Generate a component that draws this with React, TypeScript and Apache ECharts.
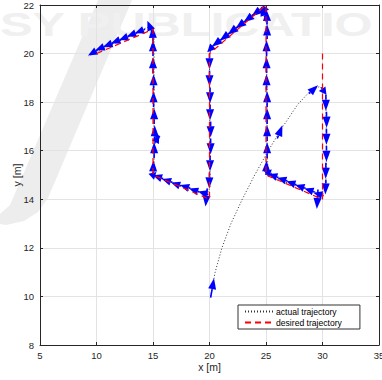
import React, { useEffect, useRef } from "react";
import * as echarts from "echarts";

// Desired trajectory (red dashed)
const desiredX = [30, 30, 25, 25, 20, 20, 15, 15, 10];
const desiredY = [20, 14, 15, 22, 20, 14, 15, 21, 20];

// Actual trajectory (black dotted)
const actualX = [20.1, 20.5, 21.1, 21.9, 22.9, 24.0, 25.2, 26.5, 27.8, 29.0, 29.8, 30.3, 30.35, 30.3, 30.0, 27.0, 25.2, 25.1, 25.05, 24.8, 24.5, 20.3, 20.0, 20.05, 19.8, 15.2, 15.1, 15.1, 14.6, 9.3];
const actualY = [10, 11, 12, 13, 14, 15, 16, 17, 17.9, 18.5, 18.65, 18.3, 16, 14.5, 14.2, 14.65, 15.0, 16, 21.3, 21.9, 21.85, 20.35, 20, 14.5, 14.2, 14.95, 15.2, 20.8, 21.1, 19.9];

// Heading arrows (base point and vector, data units)
const arrowX = [20.1, 26.0, 28.8, 29.9,
  30.3, 30.35, 30.35, 30.35, 30.3, 30.3, 29.6,
  30.1, 29.3, 28.5, 27.7, 26.9, 26.1, 25.5,
  25.0, 25.1, 25.1, 25.1, 25.1, 25.05, 25.05, 25.05, 25.1, 25.1, 24.9, 25.0,
  24.6, 23.9, 23.2, 22.5, 21.8, 21.1, 20.4,
  20.0, 20.0, 20.05, 20.05, 20.1, 20.1, 20.05, 20.0, 19.8,
  19.9, 19.1, 18.3, 17.5, 16.7, 15.9, 15.3,
  15.0, 15.1, 15.15, 15.2, 15.15, 15.1, 15.05, 15.05, 15.0, 15.0, 15.0, 14.9,
  14.3, 13.6, 12.9, 12.2, 11.5, 10.8, 10.1];
const arrowY = [9.95, 16.5, 18.35, 18.6,
  18.3, 17.6, 16.9, 16.2, 15.5, 14.8, 14.4,
  14.15, 14.3, 14.45, 14.6, 14.75, 14.9, 15.05,
  15.0, 15.7, 16.4, 17.1, 17.8, 18.5, 19.2, 19.9, 20.6, 21.2, 21.5, 21.7,
  21.85, 21.6, 21.35, 21.1, 20.85, 20.6, 20.35,
  20.0, 19.3, 18.6, 17.9, 17.2, 16.5, 15.8, 15.1, 14.45,
  14.2, 14.3, 14.45, 14.55, 14.7, 14.85, 14.95,
  15.0, 15.7, 16.3, 16.5, 16.4, 17.1, 17.8, 18.5, 19.2, 19.9, 20.5, 20.9,
  21.0, 20.86, 20.72, 20.58, 20.44, 20.3, 20.14];
const arrowU = [0.3, 0.45, 0.8, 0.45,
  0, 0.02, 0, 0, -0.02, -0.05, -0.1,
  -0.9, -0.9, -0.9, -0.9, -0.9, -0.9, -0.7,
  0.05, 0, 0, 0, 0, 0, 0, 0, 0, -0.05, -0.35, -0.3,
  -0.9, -0.9, -0.9, -0.9, -0.9, -0.9, -0.6,
  0, 0, 0, 0, 0, 0, 0, -0.03, -0.15,
  -0.9, -0.9, -0.9, -0.9, -0.9, -0.9, -0.7,
  0.05, 0, 0.4, 0.45, 0, 0, 0, 0, 0, 0, -0.05, -0.4,
  -0.9, -0.9, -0.9, -0.9, -0.9, -0.9, -0.85];
const arrowV = [0.8, 0.55, 0.35, -0.3,
  -0.65, -0.65, -0.65, -0.65, -0.65, -0.6, -0.8,
  0.12, 0.14, 0.14, 0.14, 0.14, 0.14, 0.12,
  0.6, 0.65, 0.65, 0.65, 0.65, 0.65, 0.65, 0.65, 0.6, 0.6, 0.45, 0.3,
  -0.32, -0.32, -0.32, -0.32, -0.32, -0.32, -0.3,
  -0.65, -0.65, -0.65, -0.65, -0.65, -0.65, -0.65, -0.65, -0.75,
  0.12, 0.14, 0.14, 0.14, 0.14, 0.14, 0.1,
  0.6, 0.65, 0.35, 0.1, 0.65, 0.65, 0.65, 0.65, 0.65, 0.65, 0.6, 0.45,
  -0.16, -0.16, -0.16, -0.16, -0.16, -0.16, -0.22];

const FONT = "'Liberation Sans', Arial, Helvetica, sans-serif";
const AXIS_COLOR = "#262626";

export default function App() {
  const ref = useRef<HTMLDivElement>(null);
  useEffect(() => {
    if (!ref.current) return;
    const chart = echarts.init(ref.current, null, { renderer: "svg" });
    const arrowData = arrowX.map((x, i) => [x, arrowY[i], arrowU[i], arrowV[i]]);
    const commonX = { type: "value", min: 5, max: 35, interval: 5 };
    const commonY = { type: "value", min: 8, max: 22, interval: 2 };
    const axisLine = { show: true, lineStyle: { color: AXIS_COLOR, width: 1 } };
    const axisTick = { show: true, inside: true, length: 3, lineStyle: { color: AXIS_COLOR } };
    chart.setOption({
      animation: false,
      backgroundColor: "#ffffff",
      textStyle: { fontFamily: FONT },
      grid: { left: 40, right: 3, top: 5, bottom: 35, containLabel: false, outerBoundsMode: "none" },
      graphic: [
        {
          type: "polygon",
          z: -10,
          silent: true,
          shape: {
            points: [[98, 0], [132, 0], [48, 198], [38, 212], [24, 221], [6, 225], [0, 224], [0, 214], [10, 205]],
          },
          style: { fill: "#ededed" },
        },
        {
          type: "text",
          z: -10,
          silent: true,
          x: 0,
          y: 8,
          scaleX: 1.48,
          style: {
            text: "SY PUBLICATIO",
            fill: "#f0f0f0",
            font: `bold 33px ${FONT}`,
          },
        },
      ],
      legend: {
        orient: "vertical",
        left: 238,
        top: 305,
        itemWidth: 28,
        itemHeight: 9,
        itemGap: 2,
        padding: [2, 18, 2, 6],
        borderColor: "#333333",
        borderWidth: 1,
        borderRadius: 0,
        backgroundColor: "#ffffff",
        itemStyle: { color: "rgba(0,0,0,0)", borderColor: "rgba(0,0,0,0)", borderWidth: 0, opacity: 0 },
        textStyle: { fontSize: 8.6, color: "#000000", fontFamily: FONT, padding: [0, 0, 0, -2] },
        data: ["actual trajectory", "desired trajectory"],
      },
      xAxis: [
        {
          ...commonX,
          position: "bottom",
          name: "x [m]",
          nameLocation: "middle",
          nameGap: 16,
          nameMoveOverlap: false,
          nameTextStyle: { fontSize: 10.5, color: AXIS_COLOR, fontFamily: FONT },
          axisLine,
          axisTick,
          axisLabel: { fontSize: 9.5, color: AXIS_COLOR, margin: 5, fontFamily: FONT },
          splitLine: { show: true, lineStyle: { color: "#e3e3e3", width: 1 } },
        },
        {
          ...commonX,
          position: "top",
          axisLine,
          axisTick,
          axisLabel: { show: false },
          splitLine: { show: false },
        },
      ],
      yAxis: [
        {
          ...commonY,
          position: "left",
          name: "y [m]",
          nameLocation: "middle",
          nameGap: 18,
          nameMoveOverlap: false,
          nameRotate: 90,
          nameTextStyle: { fontSize: 10.5, color: AXIS_COLOR, fontFamily: FONT },
          axisLine,
          axisTick,
          axisLabel: { fontSize: 9.5, color: AXIS_COLOR, margin: 6, fontFamily: FONT },
          splitLine: { show: true, lineStyle: { color: "#e3e3e3", width: 1 } },
        },
        {
          ...commonY,
          position: "right",
          axisLine,
          axisTick,
          axisLabel: { show: false },
          splitLine: { show: false },
        },
      ],
      series: [
        {
          name: "actual trajectory",
          type: "line",
          data: actualX.map((x, i) => [x, actualY[i]]),
          showSymbol: false,
          symbol: "none",
          lineStyle: { color: "#333333", width: 1, type: [1, 2] },
          itemStyle: { color: "#333333" },
          z: 3,
        },
        {
          name: "arrows",
          type: "custom",
          data: arrowData,
          encode: { x: 0, y: 1 },
          z: 4,
          renderItem: (params: any, api: any) => {
            const x = api.value(0);
            const y = api.value(1);
            const u = api.value(2);
            const v = api.value(3);
            const p0 = api.coord([x, y]);
            const p1 = api.coord([x + u, y + v]);
            const dx = p1[0] - p0[0];
            const dy = p1[1] - p0[1];
            const L = Math.hypot(dx, dy) || 1;
            const ux = dx / L;
            const uy = dy / L;
            const hl = Math.min(L * 0.85, 11);
            const hw = 4;
            const bx = p1[0] - ux * hl;
            const by = p1[1] - uy * hl;
            return {
              type: "group",
              children: [
                {
                  type: "line",
                  shape: { x1: p0[0], y1: p0[1], x2: bx, y2: by },
                  style: { stroke: "#0000ff", lineWidth: 1.6 },
                },
                {
                  type: "polygon",
                  shape: {
                    points: [
                      [p1[0], p1[1]],
                      [bx - uy * hw, by + ux * hw],
                      [bx + uy * hw, by - ux * hw],
                    ],
                  },
                  style: { fill: "#0000ff" },
                },
              ],
            };
          },
        },
        {
          name: "desired trajectory",
          type: "line",
          data: desiredX.map((x, i) => [x, desiredY[i]]),
          showSymbol: false,
          symbol: "none",
          lineStyle: { color: "#ff0000", width: 1.2, type: [6, 4] },
          itemStyle: { color: "#ff0000" },
          z: 5,
        },
      ],
    });
    return () => chart.dispose();
  }, []);
  return <div ref={ref} style={{ width: 382, height: 380, position: "absolute", left: 0, top: 0 }} />;
}
